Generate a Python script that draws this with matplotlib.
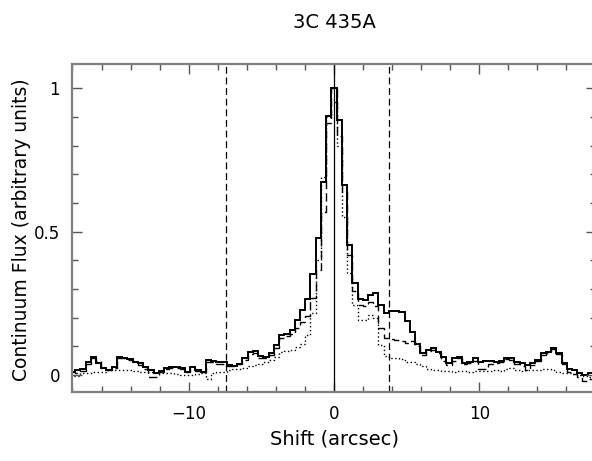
import numpy as np
import matplotlib
matplotlib.use("Agg")
import matplotlib.pyplot as plt
from matplotlib.ticker import MultipleLocator, FixedLocator, FixedFormatter

# bin centres: 0.36 arcsec bins from -18 to +17.64
bin_width = 0.36
centres = np.arange(-50, 50) * bin_width
edges = np.append(centres - bin_width / 2, centres[-1] + bin_width / 2)

# solid profile
flux_solid = [
    0.012, 0.017, 0.020, 0.047, 0.062, 0.041, 0.023, 0.017, 0.029, 0.064,
    0.060, 0.055, 0.047, 0.041, 0.029, 0.017, 0.006, 0.015, 0.023, 0.029,
    0.029, 0.023, 0.012, 0.027, 0.017, 0.012, 0.052, 0.049, 0.047, 0.047,
    0.035, 0.033, 0.040, 0.058, 0.081, 0.083, 0.065, 0.062, 0.076, 0.105,
    0.140, 0.145, 0.157, 0.192, 0.227, 0.265, 0.351, 0.477, 0.674, 0.903,
    1.000, 0.889, 0.663, 0.453, 0.320, 0.267, 0.262, 0.280, 0.287, 0.245,
    0.215, 0.222, 0.222, 0.220, 0.190, 0.151, 0.110, 0.076, 0.087, 0.093,
    0.082, 0.064, 0.041, 0.058, 0.064, 0.041, 0.047, 0.058, 0.047, 0.050,
    0.050, 0.047, 0.050, 0.060, 0.058, 0.047, 0.041, 0.035, 0.041, 0.052,
    0.076, 0.081, 0.093, 0.076, 0.043, 0.020, 0.017, 0.008, 0.000, 0.006,
]

# dashed profile
flux_dashed = [
    0.010, 0.006, 0.015, 0.040, 0.058, 0.050, 0.023, 0.017, 0.025, 0.060,
    0.058, 0.052, 0.045, 0.035, 0.020, -0.005, -0.008, 0.010, 0.020, 0.025,
    0.025, 0.020, 0.012, 0.025, 0.015, 0.010, 0.045, 0.045, 0.040, 0.040,
    0.030, 0.030, 0.038, 0.052, 0.075, 0.078, 0.060, 0.058, 0.070, 0.095,
    0.128, 0.138, 0.145, 0.165, 0.186, 0.205, 0.270, 0.366, 0.570, 0.880,
    1.000, 0.835, 0.640, 0.420, 0.295, 0.245, 0.240, 0.255, 0.240, 0.165,
    0.130, 0.125, 0.122, 0.118, 0.113, 0.118, 0.100, 0.070, 0.083, 0.088,
    0.078, 0.050, 0.035, 0.050, 0.060, 0.038, 0.042, 0.050, 0.022, 0.020,
    0.040, 0.042, 0.045, 0.055, 0.052, 0.040, 0.030, 0.017, 0.035, 0.048,
    0.070, 0.078, 0.090, 0.072, 0.040, 0.012, 0.005, -0.005, -0.020, -0.015,
]

# dotted profile
flux_dotted = [
    -0.003, -0.003, 0.006, 0.006, 0.012, 0.012, 0.012, 0.017, 0.017, 0.017,
    0.017, 0.017, 0.015, 0.012, 0.012, 0.010, 0.008, 0.006, 0.006, 0.006,
    0.004, 0.002, 0.000, 0.002, 0.004, 0.006, -0.012, 0.006, 0.010, 0.012,
    0.017, 0.020, 0.022, 0.025, 0.030, 0.035, 0.040, 0.045, 0.052, 0.064,
    0.081, 0.085, 0.087, 0.099, 0.110, 0.140, 0.215, 0.400, 0.690, 0.900,
    0.953, 0.800, 0.552, 0.355, 0.244, 0.192, 0.192, 0.210, 0.198, 0.105,
    0.065, 0.060, 0.058, 0.055, 0.047, 0.045, 0.040, 0.030, 0.020, 0.017,
    0.017, 0.015, 0.015, 0.012, 0.014, 0.015, 0.012, 0.015, 0.014, 0.015,
    0.015, 0.017, 0.015, 0.020, 0.023, 0.017, 0.015, 0.017, 0.017, 0.018,
    0.020, 0.020, 0.018, 0.012, 0.008, 0.006, 0.004, 0.000, -0.004, -0.006,
]

# marker lines (arcsec)
centre_line = 0.0
slit_edges = [-7.4, 3.8]

x_major = [-10, 0, 10]
y_major = [0, 0.5, 1]
y_labels = ["0", "0.5", "1"]

W, H = 592, 461
fig = plt.figure(figsize=(W / 100, H / 100), dpi=100)
x_lo, x_hi = -18.0, 18.0
px_per_unit = 14.53
left_px = 334 - 18.0 * px_per_unit
ax = fig.add_axes([left_px / W, 1 - 392 / H, 36 * px_per_unit / W, 328 / H])

ax.stairs(flux_dotted, edges, baseline=None, color="black", lw=1.0,
          linestyle=(0, (1, 1.8)))
ax.stairs(flux_dashed, edges, baseline=None, color="black", lw=1.0,
          linestyle=(0, (6, 3)))
ax.stairs(flux_solid, edges, baseline=None, color="black", lw=1.4)

ax.axvline(centre_line, color="black", lw=0.9)
for xv in slit_edges:
    ax.axvline(xv, color="black", lw=0.9, linestyle=(0, (5.5, 3)))

ax.set_xlim(x_lo, x_hi)
ax.set_ylim(-0.059, 1.085)

ax.xaxis.set_major_locator(FixedLocator(x_major))
ax.xaxis.set_minor_locator(MultipleLocator(2))
ax.yaxis.set_major_locator(FixedLocator(y_major))
ax.yaxis.set_major_formatter(FixedFormatter(y_labels))
ax.yaxis.set_minor_locator(MultipleLocator(0.1))

ax.tick_params(which="both", direction="in", top=True, right=True,
               color="#555555", labelsize=12)
ax.tick_params(which="major", length=7.5, width=1.0, pad=9)
ax.tick_params(which="minor", length=4, width=1.0)

for sp in ax.spines.values():
    sp.set_color("#808080")
    sp.set_linewidth(1.6)

fig.text(334 / W, 1 - 439 / H, "Shift (arcsec)", ha="center", va="center",
         fontsize=14)
fig.text(22 / W, 1 - 230 / H, "Continuum Flux (arbitrary units)", ha="center",
         va="center", rotation=90, fontsize=13.5)
fig.text(334 / W, 1 - 22 / H, "3C 435A", ha="center", va="center", fontsize=14)

fig.savefig("out.png", dpi=100)
